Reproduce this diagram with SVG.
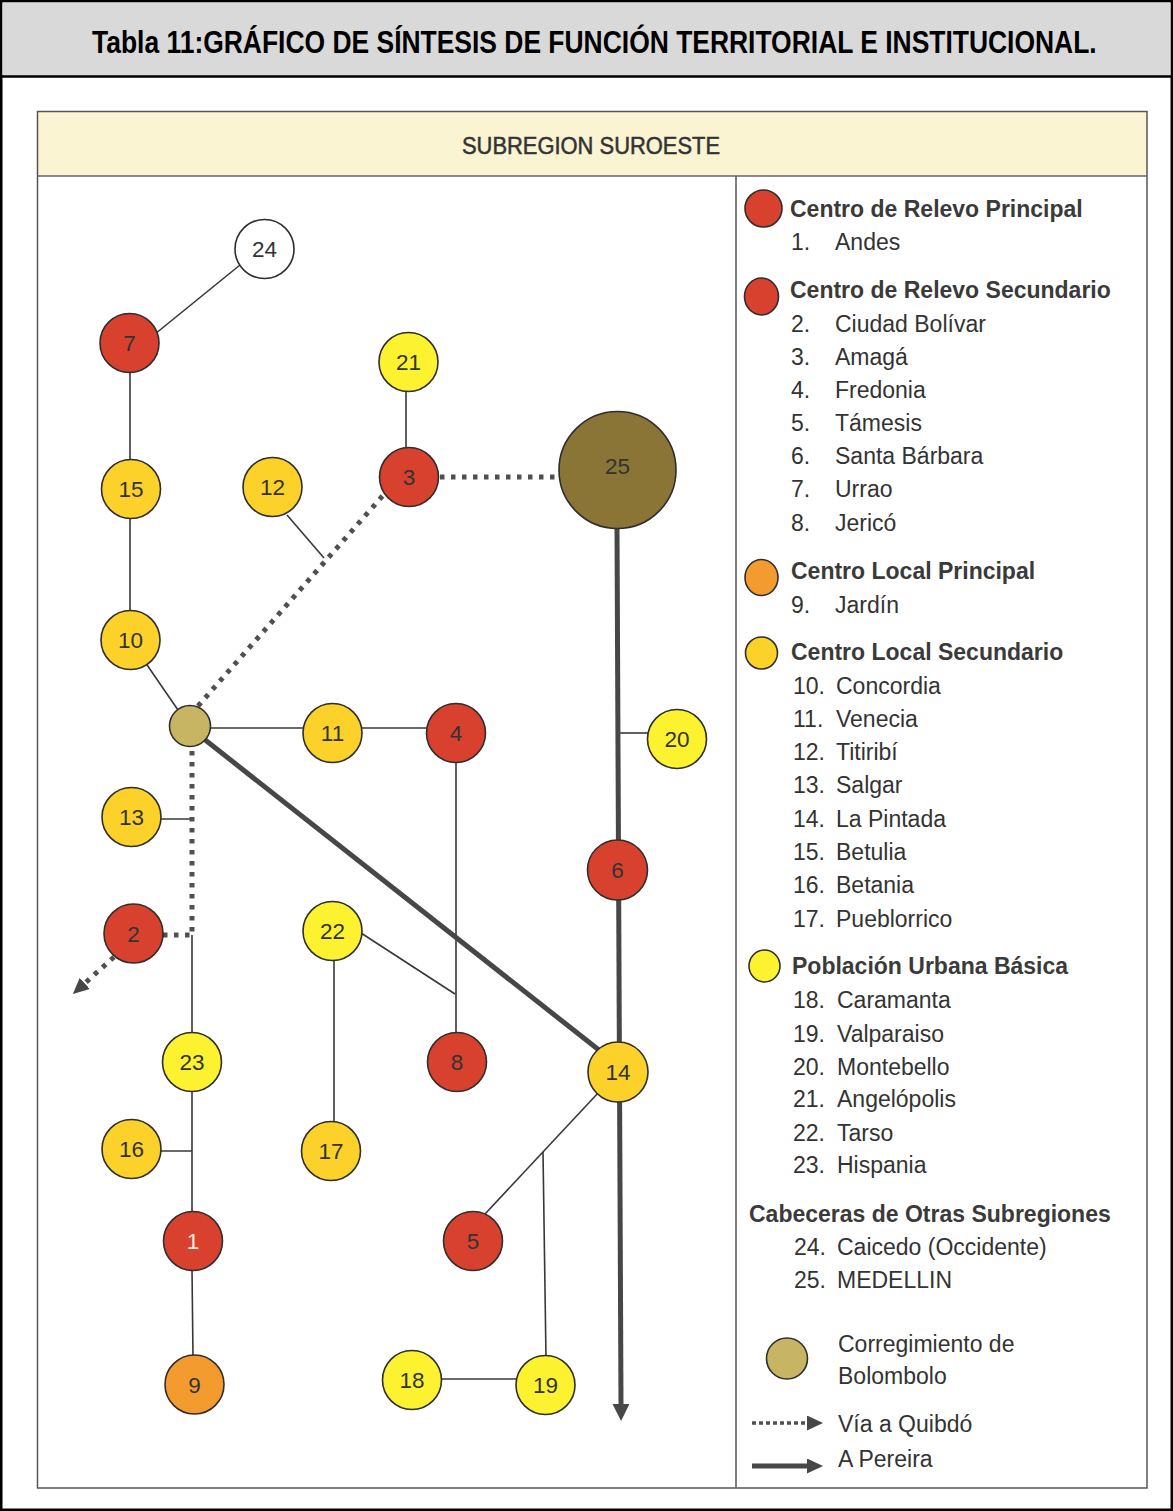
<svg xmlns="http://www.w3.org/2000/svg" width="1173" height="1511" viewBox="0 0 1173 1511">
<style>
.t{font-family:"Liberation Sans",Arial,sans-serif;fill:#333}
.num{font-family:"Liberation Sans",Arial,sans-serif;font-size:22.5px;fill:#333;text-anchor:middle}
.hd{font-family:"Liberation Sans",Arial,sans-serif;font-size:23px;font-weight:bold;fill:#3a3a3a}
.it{font-family:"Liberation Sans",Arial,sans-serif;font-size:23px;fill:#333}
.nd{stroke:#2e2e2e;stroke-width:1.6}
.red{fill:#d8412d}
.gold{fill:#fcd12a}
.yel{fill:#fdf22f}
.org{fill:#f49b30}
.wht{fill:#fff}
.thin{stroke:#383838;stroke-width:1.6;fill:none}
.thick{stroke:#474747;stroke-width:5;fill:none}
.dot{stroke:#505050;stroke-width:5;stroke-dasharray:4.5 6.5;fill:none}
.ldot{stroke:#505050;stroke-width:3.5;stroke-dasharray:4 3;fill:none}
</style>
<defs>
<marker id="ah" markerUnits="userSpaceOnUse" viewBox="0 0 17 17" markerWidth="17" markerHeight="17" refX="1" refY="8.5" orient="auto"><path d="M0,0 L17,8.5 L0,17 z" fill="#474747"/></marker>
<marker id="ah2" markerUnits="userSpaceOnUse" viewBox="0 0 16 15" markerWidth="16" markerHeight="15" refX="1" refY="7.5" orient="auto"><path d="M0,0 L16,7.5 L0,15 z" fill="#474747"/></marker>
</defs>

<!-- frame -->
<rect x="1.25" y="1.25" width="1170.5" height="1508.5" fill="#fff" stroke="#000" stroke-width="2.5"/>
<rect x="2.5" y="2.5" width="1168" height="73.5" fill="#d9d9d9"/>
<line x1="1" y1="76.5" x2="1172" y2="76.5" stroke="#000" stroke-width="2.5"/>
<text transform="translate(92,53) scale(0.845,1)" x="0" y="0" font-family="Liberation Sans, Arial, sans-serif" font-size="31" font-weight="bold" fill="#000" textLength="1189" lengthAdjust="spacingAndGlyphs">Tabla 11:GRÁFICO DE SÍNTESIS DE FUNCIÓN TERRITORIAL E INSTITUCIONAL.</text>

<!-- panel -->
<rect x="38" y="112" width="1109" height="64" fill="#faf4d3"/>
<rect x="37.5" y="111.5" width="1109.5" height="1376.5" fill="none" stroke="#555" stroke-width="1.5"/>
<line x1="37.5" y1="176" x2="1147" y2="176" stroke="#666" stroke-width="1.5"/>
<line x1="736" y1="176" x2="736" y2="1488" stroke="#555" stroke-width="1.5"/>
<text x="462" y="154" class="t" font-size="23" stroke="#333" stroke-width="0.5" textLength="258" lengthAdjust="spacingAndGlyphs">SUBREGION SUROESTE</text>

<!-- connectors -->
<g id="connectors">
<line class="thin" x1="240" y1="265" x2="155" y2="334"/>
<line class="thin" x1="130" y1="372" x2="130" y2="461"/>
<line class="thin" x1="130" y1="518" x2="130" y2="613"/>
<line class="thin" x1="145" y1="662" x2="178" y2="710"/>
<line class="thin" x1="406" y1="390" x2="406" y2="449"/>
<line class="thin" x1="287" y1="515" x2="324" y2="558"/>
<line class="thin" x1="208" y1="728" x2="305" y2="728"/>
<line class="thin" x1="360" y1="728" x2="429" y2="728"/>
<line class="thin" x1="456" y1="760" x2="456" y2="1035"/>
<line class="thin" x1="361" y1="933" x2="455" y2="994"/>
<line class="thin" x1="334" y1="958" x2="334" y2="1124"/>
<line class="thin" x1="620" y1="733" x2="649" y2="733"/>
<line class="thin" x1="159" y1="819" x2="192" y2="819"/>
<line class="thin" x1="192" y1="935" x2="192" y2="1035"/>
<line class="thin" x1="192" y1="1090" x2="192" y2="1214"/>
<line class="thin" x1="192" y1="1268" x2="193" y2="1357"/>
<line class="thin" x1="159" y1="1151" x2="192" y2="1151"/>
<line class="thin" x1="599" y1="1092" x2="485" y2="1214"/>
<line class="thin" x1="543" y1="1152" x2="546" y2="1358"/>
<line class="thin" x1="440" y1="1379" x2="518" y2="1379"/>
<line class="thick" x1="204" y1="739" x2="604" y2="1054"/>
<line class="thick" stroke-width="6" x1="617" y1="528" x2="621" y2="1405" marker-end="url(#ah)"/>
<line class="dot" x1="440" y1="477" x2="560" y2="477"/>
<line class="dot" x1="198" y1="706" x2="386" y2="492"/>
<line class="dot" x1="192" y1="751" x2="192" y2="937"/>
<line class="dot" x1="163" y1="935" x2="190" y2="935"/>
<line class="dot" x1="114" y1="957" x2="84" y2="984" marker-end="url(#ah2)"/>
</g>

<!-- nodes -->
<g id="n24"><circle class="nd wht" cx="264.5" cy="249" r="29.5"/><text class="num" x="264.5" y="257">24</text></g>
<g id="n7"><circle class="nd red" cx="129.5" cy="343" r="29.5"/><text class="num" x="129.5" y="351">7</text></g>
<g id="n21"><circle class="nd yel" cx="408.5" cy="362" r="29.5"/><text class="num" x="408.5" y="370">21</text></g>
<g id="n3"><circle class="nd red" cx="409" cy="477" r="29.5"/><text class="num" x="409" y="485">3</text></g>
<g id="n25"><circle class="nd" fill="#8a7436" cx="617.5" cy="470" r="58.5"/><text class="num" x="617.5" y="474">25</text></g>
<g id="n15"><circle class="nd gold" cx="131" cy="489" r="29.5"/><text class="num" x="131" y="497">15</text></g>
<g id="n12"><circle class="nd gold" cx="272.5" cy="487" r="29.5"/><text class="num" x="272.5" y="495">12</text></g>
<g id="n10"><circle class="nd gold" cx="130.5" cy="640" r="29.5"/><text class="num" x="130.5" y="648">10</text></g>
<g id="bolombolo"><circle class="nd" fill="#c8b563" cx="190" cy="726" r="20.5"/></g>
<g id="n11"><circle class="nd gold" cx="332.5" cy="733" r="29.5"/><text class="num" x="332.5" y="741">11</text></g>
<g id="n4"><circle class="nd red" cx="456" cy="733" r="29.5"/><text class="num" x="456" y="741">4</text></g>
<g id="n20"><circle class="nd yel" cx="677" cy="739" r="29.5"/><text class="num" x="677" y="747">20</text></g>
<g id="n13"><circle class="nd gold" cx="131.5" cy="817" r="29.5"/><text class="num" x="131.5" y="825">13</text></g>
<g id="n6"><circle class="nd red" cx="617.5" cy="870" r="30"/><text class="num" x="617.5" y="878">6</text></g>
<g id="n2"><circle class="nd red" cx="133.5" cy="933.5" r="29.5"/><text class="num" x="133.5" y="941.5">2</text></g>
<g id="n22"><circle class="nd yel" cx="332.5" cy="931" r="29.5"/><text class="num" x="332.5" y="939">22</text></g>
<g id="n23"><circle class="nd yel" cx="192" cy="1062" r="29.5"/><text class="num" x="192" y="1070">23</text></g>
<g id="n8"><circle class="nd red" cx="457" cy="1062" r="29.5"/><text class="num" x="457" y="1070">8</text></g>
<g id="n14"><circle class="nd gold" cx="618" cy="1072" r="30"/><text class="num" x="618" y="1080">14</text></g>
<g id="n16"><circle class="nd gold" cx="131.5" cy="1149" r="29.5"/><text class="num" x="131.5" y="1157">16</text></g>
<g id="n17"><circle class="nd gold" cx="331" cy="1151" r="29.5"/><text class="num" x="331" y="1159">17</text></g>
<g id="n1"><circle class="nd red" cx="193" cy="1241" r="29.5"/><text class="num" x="193" y="1249" style="fill:#fbeee0">1</text></g>
<g id="n5"><circle class="nd red" cx="473" cy="1241" r="29.5"/><text class="num" x="473" y="1249">5</text></g>
<g id="n9"><circle class="nd org" cx="194.5" cy="1384.5" r="29.5"/><text class="num" x="194.5" y="1392.5">9</text></g>
<g id="n18"><circle class="nd yel" cx="412" cy="1380" r="29.5"/><text class="num" x="412" y="1388">18</text></g>
<g id="n19"><circle class="nd yel" cx="545.5" cy="1385" r="29.5"/><text class="num" x="545.5" y="1393">19</text></g>

<!-- legend -->
<g id="legend">
<ellipse class="nd red" cx="763.5" cy="208.5" rx="18.5" ry="18.5"/>
<text class="hd" x="790" y="217">Centro de Relevo Principal</text>
<text class="it" y="250"><tspan x="791">1.</tspan><tspan x="835">Andes</tspan></text>
<ellipse class="nd red" cx="761.5" cy="296.5" rx="17" ry="18.5"/>
<text class="hd" x="790" y="298">Centro de Relevo Secundario</text>
<text class="it" y="332"><tspan x="791">2.</tspan><tspan x="835">Ciudad Bolívar</tspan></text>
<text class="it" y="365"><tspan x="791">3.</tspan><tspan x="835">Amagá</tspan></text>
<text class="it" y="398"><tspan x="791">4.</tspan><tspan x="835">Fredonia</tspan></text>
<text class="it" y="431"><tspan x="791">5.</tspan><tspan x="835">Támesis</tspan></text>
<text class="it" y="464"><tspan x="791">6.</tspan><tspan x="835">Santa Bárbara</tspan></text>
<text class="it" y="497"><tspan x="791">7.</tspan><tspan x="835">Urrao</tspan></text>
<text class="it" y="531"><tspan x="791">8.</tspan><tspan x="835">Jericó</tspan></text>
<ellipse class="nd org" cx="761.5" cy="577.5" rx="16.5" ry="18"/>
<text class="hd" x="791" y="579">Centro Local Principal</text>
<text class="it" y="613"><tspan x="791">9.</tspan><tspan x="835">Jardín</tspan></text>
<ellipse class="nd gold" cx="761.5" cy="653" rx="16" ry="16"/>
<text class="hd" x="791" y="660">Centro Local Secundario</text>
<text class="it" y="694"><tspan x="793">10.</tspan><tspan x="836">Concordia</tspan></text>
<text class="it" y="727"><tspan x="793">11.</tspan><tspan x="836">Venecia</tspan></text>
<text class="it" y="760"><tspan x="793">12.</tspan><tspan x="836">Titiribí</tspan></text>
<text class="it" y="793"><tspan x="793">13.</tspan><tspan x="836">Salgar</tspan></text>
<text class="it" y="827"><tspan x="793">14.</tspan><tspan x="836">La Pintada</tspan></text>
<text class="it" y="860"><tspan x="793">15.</tspan><tspan x="836">Betulia</tspan></text>
<text class="it" y="893"><tspan x="793">16.</tspan><tspan x="836">Betania</tspan></text>
<text class="it" y="927"><tspan x="793">17.</tspan><tspan x="836">Pueblorrico</tspan></text>
<ellipse class="nd yel" cx="764.5" cy="966" rx="15.5" ry="16"/>
<text class="hd" x="792" y="974">Población Urbana Básica</text>
<text class="it" y="1008"><tspan x="793">18.</tspan><tspan x="837">Caramanta</tspan></text>
<text class="it" y="1042"><tspan x="793">19.</tspan><tspan x="837">Valparaiso</tspan></text>
<text class="it" y="1075"><tspan x="793">20.</tspan><tspan x="837">Montebello</tspan></text>
<text class="it" y="1107"><tspan x="793">21.</tspan><tspan x="837">Angelópolis</tspan></text>
<text class="it" y="1141"><tspan x="793">22.</tspan><tspan x="837">Tarso</tspan></text>
<text class="it" y="1173"><tspan x="793">23.</tspan><tspan x="837">Hispania</tspan></text>
<text class="hd" x="749" y="1222">Cabeceras de Otras Subregiones</text>
<text class="it" y="1255"><tspan x="794">24.</tspan><tspan x="837">Caicedo (Occidente)</tspan></text>
<text class="it" y="1288"><tspan x="794">25.</tspan><tspan x="837">MEDELLIN</tspan></text>
<circle class="nd" fill="#c8b563" cx="787" cy="1358.5" r="20.5"/>
<text class="it" x="838" y="1352">Corregimiento de</text>
<text class="it" x="838" y="1384">Bolombolo</text>
<line class="ldot" x1="752" y1="1423" x2="808" y2="1423" marker-end="url(#ah2)"/>
<text class="it" x="838" y="1432">Vía a Quibdó</text>
<line class="thick" stroke-width="4" x1="752" y1="1466" x2="808" y2="1466" marker-end="url(#ah2)"/>
<text class="it" x="838" y="1467">A Pereira</text>
</g>
</svg>
